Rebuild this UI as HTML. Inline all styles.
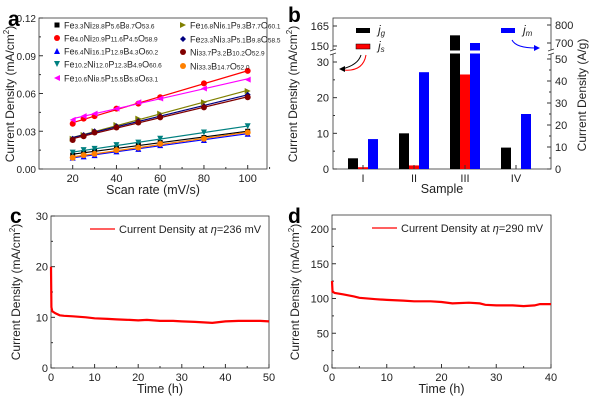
<!DOCTYPE html>
<html><head><meta charset="utf-8"><style>
body{margin:0;background:#fff}
svg{display:block;font-family:"Liberation Sans",Arial,sans-serif}
</style></head><body>
<svg id="s" width="600" height="401" viewBox="0 0 600 401" xmlns="http://www.w3.org/2000/svg">
<g id="ga"></g>
<g id="gb"></g>
<g id="gc"></g>
<g id="gd"></g>
</svg>
<script>
// ---- Panel a data ----
const scanRates=[20,25,30,40,50,60,80,100];
const aS1=[0.011,0.013,0.014,0.017,0.019,0.021,0.025,0.030];
const aS2=[0.036,0.040,0.042,0.048,0.052,0.057,0.068,0.078];
const aS3=[0.009,0.010,0.011,0.014,0.016,0.019,0.023,0.028];
const aS4=[0.013,0.015,0.016,0.019,0.021,0.024,0.029,0.034];
const aS5=[0.039,0.042,0.044,0.048,0.053,0.056,0.064,0.071];
const aS6=[0.024,0.027,0.030,0.035,0.040,0.044,0.053,0.062];
const aS7=[0.024,0.027,0.030,0.034,0.038,0.042,0.050,0.059];
const aS8=[0.023,0.026,0.029,0.033,0.037,0.041,0.049,0.057];
const aS9=[0.009,0.011,0.012,0.015,0.017,0.020,0.024,0.029];
const aYTicks=[0,0.03,0.06,0.09,0.12];
const aXTicks=[20,40,60,80,100];
// ---- Panel b data ----
const samples=["I","II","III","IV"];
const jg=[3,10,158,6];
const js=[0.5,1,26.5,0];
const jm=[13.6,44,700,25];
const bLeftTicks=[0,10,20,30];
const bLeftUpperTicks=[150,165];
const bRightTicks=[0,10,20,30,40,50];
const bRightUpperTicks=[700,800];
// ---- Panel c data ----
const cTime=[0,0.1,0.3,1,2,3,5,8,10,13,15,18,20,22,25,28,30,33,35,37,38,40,43,45,48,50];
const cVal=[20,12,11.2,10.8,10.4,10.3,10.2,10.0,9.8,9.7,9.6,9.5,9.4,9.5,9.3,9.3,9.2,9.1,9.0,8.9,9.0,9.2,9.3,9.3,9.3,9.2];
const cYTicks=[0,10,20,30];
const cXTicks=[0,10,20,30,40,50];
// ---- Panel d data ----
const dTime=[0,0.1,0.5,2,4,5,8,10,13,15,18,20,22,25,27,28,30,33,35,37,38,40];
const dVal=[125,110,108,106,103,101,99,98,97,96,96,95,93,94,93,91,90,90,89,90,92,92];
const dYTicks=[0,50,100,150,200];
const dXTicks=[0,10,20,30,40];

const NS="http://www.w3.org/2000/svg";
function mk(parent,tag,attrs,name,text){const e=document.createElementNS(NS,tag);for(const k in attrs)e.setAttribute(k,attrs[k]);


if(text!==undefined)e.textContent=text;parent.appendChild(e);return e;}
function lin(d0,d1,r0,r1){return v=>r0+(v-d0)*(r1-r0)/(d1-d0);}
function fmt2(v){return v.toFixed(2);}
function ytitle(g,tx,ty,nm){
const yt=mk(g,'text',{x:0,y:0,'text-anchor':'middle','font-size':12,fill:'#222',transform:'translate('+tx+','+ty+') rotate(-90)'},nm,'Current Density (mA/cm');
const sp=document.createElementNS(NS,'tspan');sp.setAttribute('font-size',8);sp.setAttribute('dy',-5);sp.textContent='2';yt.appendChild(sp);
const sp2=document.createElementNS(NS,'tspan');sp2.setAttribute('dy',5);sp2.textContent=')';yt.appendChild(sp2);}

// ===== Panel a =====
(function(){
const g=document.getElementById('ga');
const L=39,R=267,T=18,B=169;
const x=lin(20,100,72.7,247.7), y=lin(0,0.12,B,T);
mk(g,'rect',{x:L,y:T,width:R-L,height:B-T,fill:'none',stroke:'#333','stroke-width':0.8},'plot-frame-a');
aYTicks.forEach((t,i)=>{mk(g,'line',{x1:L,x2:L+4,y1:y(t),y2:y(t),stroke:'#333'},'y-tick-a');
mk(g,'text',{x:L-3,y:y(t)+4,'text-anchor':'end','font-size':10,fill:'#222'},'y-tick-label-a',fmt2(t));
if(i<aYTicks.length-1)mk(g,'line',{x1:L,x2:L+2,y1:y(t+0.015),y2:y(t+0.015),stroke:'#333'},'y-minor-tick-a');});
aXTicks.forEach(t=>{mk(g,'line',{x1:x(t),x2:x(t),y1:B,y2:B-4,stroke:'#333'},'x-tick-a');
mk(g,'text',{x:x(t),y:B+13,'text-anchor':'middle','font-size':11,fill:'#222'},'x-tick-label-a',t);
mk(g,'line',{x1:x(t+10),x2:x(t+10),y1:B,y2:B-2,stroke:'#333'},'x-minor-tick-a');});
const series=[aS1,aS2,aS3,aS4,aS5,aS6,aS7,aS8,aS9];
const cols=['#000','#f00','#00f','#008080','#f0f','#808000','#000080','#800000','#ff8000'];
const shapes=['sq','ci','ut','dt','lt','rt','di','ci','ci'];
function marker(px,py,s,c,nm){const r=3;let p;
if(s==='sq')return mk(g,'rect',{x:px-r+0.5,y:py-r+0.5,width:2*r-1,height:2*r-1,fill:c},nm);
if(s==='ci')return mk(g,'circle',{cx:px,cy:py,r:r,fill:c},nm);
if(s==='ut')p=[[px,py-r],[px+r,py+r],[px-r,py+r]];
if(s==='dt')p=[[px,py+r],[px+r,py-r],[px-r,py-r]];
if(s==='lt')p=[[px-r,py],[px+r,py-r],[px+r,py+r]];
if(s==='rt')p=[[px+r,py],[px-r,py-r],[px-r,py+r]];
if(s==='di')p=[[px,py-r],[px+r,py],[px,py+r],[px-r,py]];
return mk(g,'polygon',{points:p.map(q=>q.join(',')).join(' '),fill:c},nm);}
series.forEach((s,k)=>{
const n=s.length;let sx=0,sy=0,sxx=0,sxy=0;scanRates.forEach((xv,i)=>{sx+=xv;sy+=s[i];sxx+=xv*xv;sxy+=xv*s[i];});
const m=(n*sxy-sx*sy)/(n*sxx-sx*sx),b=(sy-m*sx)/n;
mk(g,'line',{x1:x(20),y1:y(m*20+b),x2:x(100),y2:y(m*100+b),stroke:cols[k],'stroke-width':1.2},'fit-line-'+(k+1));
scanRates.forEach((xv,i)=>marker(x(xv),y(s[i]),shapes[k],cols[k],'point-series-'+(k+1)));
});
const leg=[
[57,25,0,[['Fe',''],['3.3','s'],['Ni',''],['28.8','s'],['P',''],['5.6','s'],['B',''],['8.7','s'],['O',''],['53.6','s']]],
[57,38,1,[['Fe',''],['4.0','s'],['Ni',''],['20.9','s'],['P',''],['11.6','s'],['P',''],['4.5','s'],['O',''],['58.9','s']]],
[57,51,2,[['Fe',''],['6.4','s'],['Ni',''],['16.1','s'],['P',''],['12.9','s'],['B',''],['4.3','s'],['O',''],['60.2','s']]],
[57,64,3,[['Fe',''],['10.2','s'],['Ni',''],['12.0','s'],['P',''],['12.3','s'],['B',''],['4.9','s'],['O',''],['60.6','s']]],
[57,78,4,[['Fe',''],['10.6','s'],['Ni',''],['8.5','s'],['P',''],['15.5','s'],['B',''],['5.8','s'],['O',''],['63.1','s']]],
[183,25,5,[['Fe',''],['16.8','s'],['Ni',''],['6.1','s'],['P',''],['9.3','s'],['B',''],['7.7','s'],['O',''],['60.1','s']]],
[183,39,6,[['Fe',''],['23.3','s'],['Ni',''],['3.3','s'],['P',''],['5.1','s'],['B',''],['9.8','s'],['O',''],['58.5','s']]],
[183,52,7,[['Ni',''],['33.7','s'],['P',''],['3.2','s'],['B',''],['10.2','s'],['O',''],['52.9','s']]],
[183,66,8,[['Ni',''],['33.3','s'],['B',''],['14.7','s'],['O',''],['52.0','s']]]];
leg.forEach(([lx,ly,k,parts])=>{marker(lx,ly,shapes[k],cols[k],'legend-marker-'+(k+1));
const t=mk(g,'text',{x:lx+7,y:ly+3.5,'font-size':9,fill:'#222'},'legend-entry-'+(k+1));
parts.forEach(([s,sub])=>{const ts=document.createElementNS(NS,'tspan');ts.textContent=s;if(sub)ts.setAttribute('font-size',6.5);t.appendChild(ts);});});
mk(g,'text',{x:153,y:194,'text-anchor':'middle','font-size':12.5,fill:'#222'},'x-axis-title-a','Scan rate (mV/s)');
ytitle(g,14,94,'y-axis-title-a');
mk(g,'text',{x:8,y:26,'font-size':21,'font-weight':'bold',fill:'#000'},'panel-label-a','a');
})();

// ===== Panel b =====
(function(){
const g=document.getElementById('gb');
const L=333,R=551,T=18,B=169,BRK=52;
const yl=v=> v<=40? lin(0,30,B,62)(v) : lin(150,165,46,26)(v);
const yr=v=> v<=60? lin(0,50,B,59)(v) : lin(700,800,43,25)(v);
const xc=lin(0,3,363,516);
mk(g,'rect',{x:L,y:T,width:R-L,height:B-T,fill:'none',stroke:'#333','stroke-width':0.8},'plot-frame-b');
samples.forEach((s,i)=>{const c=xc(i);
[[jg,-10,'#000',yl,'bar-jg-'],[js,0,'#f00',yl,'bar-js-'],[jm,10,'#00f',yr,'bar-jm-']].forEach(([arr,off,col,f,nm])=>{
const v=arr[i];if(v<=0)return;const top=f(v);
mk(g,'rect',{x:c+off-5,y:top,width:10,height:B-top,fill:col},nm+s);
if(top<BRK)mk(g,'rect',{x:c+off-5.5,y:BRK-1.5,width:11,height:3,fill:'#fff'},'bar-break-gap');});
mk(g,'line',{x1:c,x2:c,y1:B,y2:B-4,stroke:'#333'},'x-tick-b');
mk(g,'text',{x:c,y:B+13,'text-anchor':'middle','font-size':11,fill:'#222'},'x-tick-label-b',s);});
mk(g,'rect',{x:L-4,y:BRK-2,width:8,height:4,fill:'#fff'},'axis-break-left');
mk(g,'rect',{x:R-4,y:BRK-2,width:8,height:4,fill:'#fff'},'axis-break-right');
[[L,BRK-2],[L,BRK+2],[R,BRK-2],[R,BRK+2]].forEach(([bx,by])=>mk(g,'line',{x1:bx-3,y1:by+1,x2:bx+3,y2:by-1,stroke:'#333','stroke-width':0.8},'break-mark'));
bLeftTicks.concat(bLeftUpperTicks).forEach(t=>{mk(g,'line',{x1:L,x2:L+4,y1:yl(t),y2:yl(t),stroke:'#333'},'left-tick-b');
mk(g,'text',{x:L-4,y:yl(t)+4,'text-anchor':'end','font-size':11,fill:'#222'},'left-tick-label-b',t);});
[5,15,25].forEach(t=>mk(g,'line',{x1:L,x2:L+2,y1:yl(t),y2:yl(t),stroke:'#333'},'left-minor-tick-b'));
bRightTicks.concat(bRightUpperTicks).forEach(t=>{mk(g,'line',{x1:R,x2:R-4,y1:yr(t),y2:yr(t),stroke:'#333'},'right-tick-b');
mk(g,'text',{x:R+4,y:yr(t)+4,'font-size':11,fill:'#222'},'right-tick-label-b',t);});
[5,15,25,35,45].forEach(t=>mk(g,'line',{x1:R,x2:R-2,y1:yr(t),y2:yr(t),stroke:'#333'},'right-minor-tick-b'));
mk(g,'rect',{x:356,y:28,width:14,height:5,fill:'#000'},'legend-swatch-jg');
mk(g,'rect',{x:356,y:44,width:14,height:5,fill:'#f00',stroke:'#000','stroke-width':0.5},'legend-swatch-js');
mk(g,'rect',{x:501,y:28,width:14,height:5,fill:'#00f'},'legend-swatch-jm');
function jl(x0,y0,s,nm){const t=mk(g,'text',{x:x0,y:y0,'font-size':12,'font-style':'italic','font-family':'"Liberation Sans",sans-serif',fill:'#222'},nm,'j');
const ts=document.createElementNS(NS,'tspan');ts.setAttribute('font-size',8);ts.setAttribute('dy',2);ts.textContent=s;t.appendChild(ts);}
jl(378,34,'g','legend-entry-jg');jl(378,50,'s','legend-entry-js');jl(523,34,'m','legend-entry-jm');
mk(g,'path',{d:'M361,55 Q358,65 342,69',fill:'none',stroke:'#000','stroke-width':1},'arrow-black');
mk(g,'path',{d:'M366,55 Q363,72 343,70',fill:'none',stroke:'#f00','stroke-width':1},'arrow-red');
mk(g,'polygon',{points:'339,69 345,66 345,72',fill:'#000'},'arrowhead-left');
mk(g,'path',{d:'M512,40 Q516,48 536,48',fill:'none',stroke:'#00f','stroke-width':1},'arrow-blue');
mk(g,'polygon',{points:'540,48 534,45 534,51',fill:'#00f'},'arrowhead-right');
mk(g,'text',{x:442,y:193,'text-anchor':'middle','font-size':12.5,fill:'#222'},'x-axis-title-b','Sample');
ytitle(g,297,94,'y-axis-title-b-left');
mk(g,'text',{x:0,y:0,'text-anchor':'middle','font-size':12,fill:'#222',transform:'translate(586,95) rotate(-90)'},'y-axis-title-b-right','Current Density (A/g)');
mk(g,'text',{x:288,y:22,'font-size':21,'font-weight':'bold',fill:'#000'},'panel-label-b','b');
})();

// ===== Panels c, d =====
function timePanel(id,L,R,T,B,xmax,ymax,ymaxTop,tArr,vArr,xt,ytk,minorY,legendX,eta,label,lblX){
const g=document.getElementById(id);
const x=lin(0,xmax,L,R), y=lin(0,ymax,B,ymaxTop);
mk(g,'rect',{x:L,y:T,width:R-L,height:B-T,fill:'none',stroke:'#333','stroke-width':0.8},'plot-frame-'+label);
ytk.forEach(t=>{mk(g,'line',{x1:L,x2:L+4,y1:y(t),y2:y(t),stroke:'#333'},'y-tick-'+label);
mk(g,'text',{x:L-3,y:y(t)+4,'text-anchor':'end','font-size':11,fill:'#222'},'y-tick-label-'+label,t);});
minorY.forEach(t=>mk(g,'line',{x1:L,x2:L+2,y1:y(t),y2:y(t),stroke:'#333'},'y-minor-tick-'+label));
xt.forEach((t,i)=>{mk(g,'line',{x1:x(t),x2:x(t),y1:B,y2:B-4,stroke:'#333'},'x-tick-'+label);
mk(g,'text',{x:x(t),y:B+13,'text-anchor':'middle','font-size':11,fill:'#222'},'x-tick-label-'+label,t);
if(i<xt.length-1)mk(g,'line',{x1:x(t+xt[1]/2),x2:x(t+xt[1]/2),y1:B,y2:B-2,stroke:'#333'},'x-minor-tick-'+label);});
mk(g,'path',{d:tArr.map((t,i)=>(i?'L':'M')+x(t).toFixed(1)+','+y(vArr[i]).toFixed(1)).join(''),fill:'none',stroke:'#f00','stroke-width':2.2},'current-density-line-'+label);
mk(g,'line',{x1:legendX,x2:legendX+25,y1:T+13,y2:T+13,stroke:'#f00','stroke-width':1.2},'legend-line-'+label);
const t=mk(g,'text',{x:legendX+29,y:T+17,'font-size':11,fill:'#222'},'legend-entry-'+label,'Current Density at ');
const e=document.createElementNS(NS,'tspan');e.setAttribute('font-style','italic');e.textContent='η';t.appendChild(e);
const e2=document.createElementNS(NS,'tspan');e2.textContent='='+eta+' mV';t.appendChild(e2);
mk(g,'text',{x:(L+R)/2,y:393,'text-anchor':'middle','font-size':12.5,fill:'#222'},'x-axis-title-'+label,'Time (h)');
mk(g,'text',{x:lblX,y:223,'font-size':21,'font-weight':'bold',fill:'#000'},'panel-label-'+label,label);
}
timePanel('gc',51,269,216,368,50,30,216,cTime,cVal,cXTicks,cYTicks,[5,15,25],90,236,'c',10);
timePanel('gd',332,551,215,368,40,200,229,dTime,dVal,dXTicks,dYTicks,[25,75,125,175],372,290,'d',288);
ytitle(document.getElementById('gc'),20,292,'y-axis-title-c');
ytitle(document.getElementById('gd'),299,292,'y-axis-title-d');
</script>
</body></html>
